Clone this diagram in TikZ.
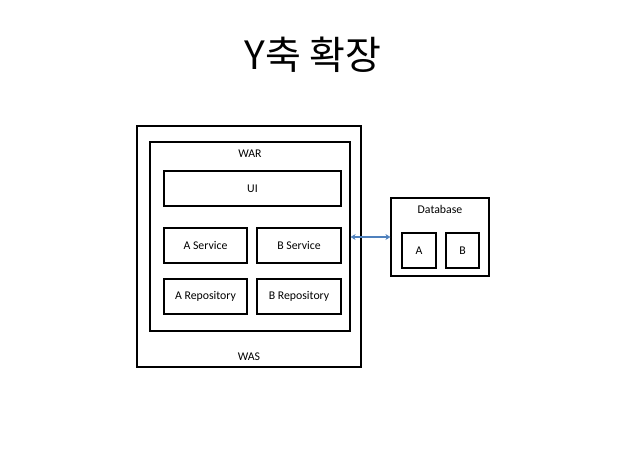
\documentclass[tikz,border=0pt]{standalone}
\usepackage{fontspec}
\usetikzlibrary{arrows.meta}
\setmainfont{Carlito}
\newfontfamily\krfont{Noto Sans CJK KR}
\begin{document}
\begin{tikzpicture}[x=1pt,y=-1pt]
  \tikzset{
      > = stealth,
      every node/.append style = {
          font = \fontsize{11.8}{14}\selectfont
      },
      box/.style = {
          draw,
          line width = 1.2pt,
          inner sep = 0pt
      },
      link/.style = {
          draw = {rgb,255:red,79;green,129;blue,189},
          line width = 1.3pt,
          arrows = {Stealth[length=5pt,width=6pt]-Stealth[length=5pt,width=6pt]}
      }
  }
  \useasboundingbox (0,0) rectangle (628,472);
  \node[font=\krfont\fontsize{39}{44}\selectfont] (title) at (313,55) {Y축 확장};
  \node[box, minimum width=224pt, minimum height=241pt] (was) at (249,246.5) {};
  \node[box, minimum width=200pt, minimum height=189pt] (war) at (250,236.5) {};
  \node (warlabel) at (250,154) {WAR};
  \node (waslabel) at (249,357) {WAS};
  \node[box, minimum width=177pt, minimum height=35pt] (ui) at (252.5,188.5) {UI};
  \node[box, minimum width=83pt, minimum height=35pt] (asvc) at (205.5,245.5) {A Service};
  \node[box, minimum width=84pt, minimum height=35pt] (bsvc) at (299,245.5) {B Service};
  \node[box, minimum width=83pt, minimum height=35pt] (arepo) at (205.5,296.5) {A Repository};
  \node[box, minimum width=84pt, minimum height=35pt] (brepo) at (299,296.5) {B Repository};
  \node[box, minimum width=98pt, minimum height=78pt] (db) at (440,237) {};
  \node (dblabel) at (440,209) {Database};
  \node[box, minimum width=34pt, minimum height=35pt] (dba) at (419,250.5) {A};
  \node[box, minimum width=33pt, minimum height=35pt] (dbb) at (462.5,250.5) {B};
  \path[link] (war.east |- 0,237) -- (db.west |- 0,237);
\end{tikzpicture}
\end{document}
